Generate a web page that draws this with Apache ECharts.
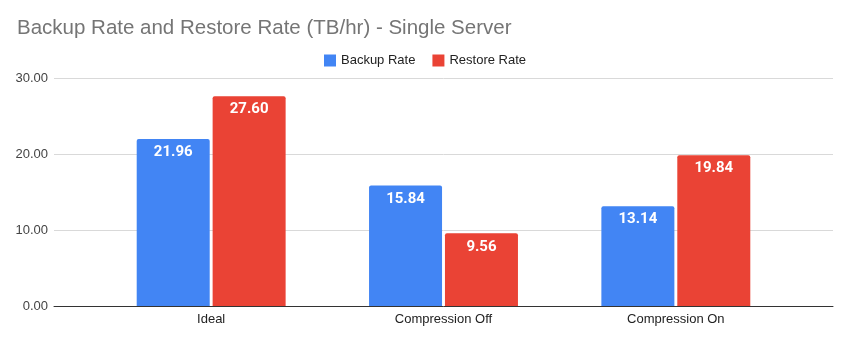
<!DOCTYPE html>
<html>
<head>
<meta charset="utf-8">
<script src="https://cdn.jsdelivr.net/npm/echarts@6/dist/echarts.min.js"></script>
<style>
  html, body { margin: 0; padding: 0; background: #fff; }
  #chart { width: 850px; height: 342px; }
</style>
</head>
<body>
<div id="chart"></div>
<script>
// Throughput per configuration, TB/hr
const categories = ['Ideal', 'Compression Off', 'Compression On'];
const backupRate = [21.96, 15.84, 13.14];
const restoreRate = [27.60, 9.56, 19.84];
const yTicks = { min: 0, max: 30, interval: 10 };

const FONT = '"Liberation Sans", Arial, sans-serif';
const LABEL_FONT = 'Roboto, "Liberation Sans", Arial, sans-serif';
const chart = echarts.init(document.getElementById('chart'));

const valueLabel = {
  show: true,
  position: 'insideTop',
  distance: 6,
  color: '#fff',
  fontFamily: LABEL_FONT,
  fontWeight: 'bold',
  fontSize: 15,
  formatter: p => p.value.toFixed(2)
};

chart.setOption({
  animation: false,
  title: {
    text: 'Backup Rate and Restore Rate (TB/hr) - Single Server',
    left: 12,
    top: 13,
    textStyle: { color: '#757575', fontFamily: FONT, fontWeight: 'normal', fontSize: 20.5 }
  },
  legend: {
    top: 49,
    left: 'center',
    itemWidth: 12,
    itemHeight: 12,
    itemGap: 17,
    icon: 'rect',
    textStyle: { color: '#222', fontFamily: FONT, fontSize: 13 },
    data: ['Backup Rate', 'Restore Rate']
  },
  grid: [
    // full-width frame carrying the value scale and gridlines
    { left: 54, right: 17, top: 78, bottom: 36 },
    // inner band where the grouped bars sit
    { left: 95, right: 58, top: 78, bottom: 36 }
  ],
  xAxis: [
    {
      gridIndex: 0, type: 'category', data: [''],
      axisLine: { lineStyle: { color: '#333', width: 1 } },
      axisTick: { show: false }, axisLabel: { show: false }
    },
    {
      gridIndex: 1, type: 'category', data: categories,
      axisLine: { show: false }, axisTick: { show: false },
      axisLabel: { color: '#222', fontFamily: FONT, fontSize: 13, margin: 7 }
    }
  ],
  yAxis: [
    {
      gridIndex: 0, type: 'value', min: yTicks.min, max: yTicks.max, interval: yTicks.interval,
      axisLine: { show: false }, axisTick: { show: false },
      axisLabel: { color: '#444', fontFamily: FONT, fontSize: 13, margin: 6, formatter: v => v.toFixed(2) },
      splitLine: { lineStyle: { color: '#d9d9d9', width: 1 } }
    },
    {
      gridIndex: 1, type: 'value', min: yTicks.min, max: yTicks.max, interval: yTicks.interval,
      show: false, splitLine: { show: false }
    }
  ],
  series: [
    {
      name: 'Backup Rate', type: 'bar', xAxisIndex: 1, yAxisIndex: 1,
      data: backupRate, barWidth: 73, barGap: '4%',
      itemStyle: { color: '#4285F4', borderRadius: [2, 2, 0, 0] },
      label: valueLabel
    },
    {
      name: 'Restore Rate', type: 'bar', xAxisIndex: 1, yAxisIndex: 1,
      data: restoreRate, barWidth: 73, barGap: '4%',
      itemStyle: { color: '#EA4335', borderRadius: [2, 2, 0, 0] },
      label: valueLabel
    }
  ]
});
</script>
</body>
</html>
